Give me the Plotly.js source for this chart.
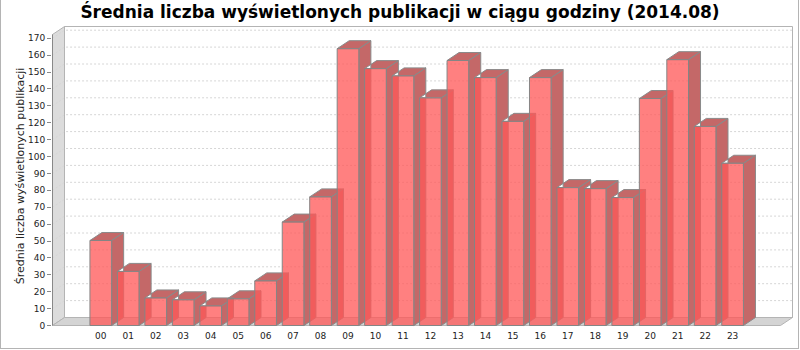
<!DOCTYPE html>
<html>
<head>
<meta charset="utf-8">
<script src="https://cdn.plot.ly/plotly-3.0.1.min.js"></script>
<style>
  html, body { margin: 0; padding: 0; background: #fff; }
  #wrap { position: relative; width: 800px; height: 350px; }
  #chart { width: 800px; height: 350px; }
  #frame { position: absolute; left: 0; top: 0; width: 799px; height: 349px; box-sizing: border-box;
           border-left: 1px solid #b4b4b4; border-right: 1px solid #b4b4b4; border-bottom: 1px solid #b4b4b4;
           pointer-events: none; }
</style>
</head>
<body>
<div id="wrap"><div id="chart"></div><div id="frame"></div></div>
<script>
// ---- data ----
const hours = ['00','01','02','03','04','05','06','07','08','09','10','11',
               '12','13','14','15','16','17','18','19','20','21','22','23'];
const views = [50.3, 32.0, 16.3, 15.2, 11.6, 15.8, 26.4, 61.2, 76.1, 163.8, 152.0, 147.7,
               134.7, 156.8, 146.7, 120.8, 146.7, 81.6, 81.0, 75.7, 134.3, 157.3, 117.8, 96.0];
const yTickVals = [0,10,20,30,40,50,60,70,80,90,100,110,120,130,140,150,160,170];
const chartTitle = 'Średnia liczba wyświetlonych publikacji w ciągu godziny (2014.08)';
const yTitle = 'Średnia liczba wyświetlonych publikacji';

// ---- geometry (pixels) ----
const PLOT_L = 52, PLOT_R = 793, PLOT_T = 25, PLOT_B = 327;
const CAT0_PX = 100.8, CAT_STEP_PX = 27.47;   // category spacing
const ZERO_PX = 325.5, UNIT_PX = 1.69;        // value scale
const DEPTH_X = 12, DEPTH_Y = 8;              // 3D offset
const AXIS_PX = 52.5, FRONT_TOP_PX = 34.5, FRONT_RIGHT_PX = 780.5;
const BAR_W = 0.79;

const X = px => (px - CAT0_PX) / CAT_STEP_PX;
const Y = py => (ZERO_PX - py) / UNIT_PX;
const dxD = DEPTH_X / CAT_STEP_PX;
const dyD = DEPTH_Y / UNIT_PX;
const xRange = [X(PLOT_L), X(PLOT_R)];
const yRange = [Y(PLOT_B), Y(PLOT_T)];

const xFL = X(AXIS_PX), xBL = X(AXIS_PX + DEPTH_X);
const xFR = X(FRONT_RIGHT_PX), xBR = X(FRONT_RIGHT_PX + DEPTH_X);
const yFT = Y(FRONT_TOP_PX), yBT = Y(FRONT_TOP_PX - DEPTH_Y);

// gridlines on back wall + diagonals on side wall
const gx = [], gy = [];
yTickVals.forEach(v => {
  if (v === 0) return;
  gx.push(xFL, xBL, xBR, null);
  gy.push(v, v + dyD, v + dyD, null);
});

// side & top faces
const fx = [], fy = [];
hours.forEach((h, i) => {
  const v = views[i], L = i - BAR_W / 2, R = i + BAR_W / 2;
  fx.push(R, R + dxD, R + dxD, R, R, null);
  fy.push(0, dyD, v + dyD, v, 0, null);
  fx.push(L, L + dxD, R + dxD, R, L, null);
  fy.push(v, v + dyD, v + dyD, v, v, null);
});

const idx = hours.map((h, i) => i);

const traces = [
  { type: 'scatter', mode: 'lines', x: gx, y: gy, hoverinfo: 'skip',
    line: { color: '#d6d6d6', width: 1, dash: '2px,2px' }, showlegend: false },
  { type: 'scatter', mode: 'lines', x: fx, y: fy, fill: 'toself', fillcolor: '#c46868',
    line: { color: '#8a8a8a', width: 1 }, hoverinfo: 'skip', showlegend: false },
  { type: 'bar', x: idx, y: views, width: BAR_W, xaxis: 'x2', yaxis: 'y2',
    marker: { color: 'rgba(255,88,88,0.76)', line: { color: '#858585', width: 1 } },
    showlegend: false }
];

const path = pts => 'M' + pts.map(p => p[0] + ',' + p[1]).join('L') + 'Z';

const layout = {
  width: 800, height: 350,
  margin: { l: PLOT_L, r: 800 - PLOT_R, t: PLOT_T, b: 350 - PLOT_B, pad: 0 },
  paper_bgcolor: '#fff', plot_bgcolor: '#fff',
  showlegend: false,
  title: { text: chartTitle, x: 0.5, xref: 'container', xanchor: 'center',
           y: 1 - 12.5 / 350, yref: 'container', yanchor: 'middle',
           font: { family: 'DejaVu Sans', size: 17, weight: 'bold', color: '#000' } },
  xaxis: { range: xRange, tickmode: 'array', tickvals: idx, ticktext: hours,
           ticks: '', showgrid: false, zeroline: false, showline: false, ticklabelstandoff: 2,
           tickfont: { family: 'DejaVu Sans', size: 9, color: '#222' }, fixedrange: true },
  yaxis: { range: yRange, tickmode: 'array', tickvals: yTickVals,
           ticks: 'outside', ticklen: 4, tickcolor: '#888', tickwidth: 1,
           showgrid: false, zeroline: false, showline: false,
           tickfont: { family: 'DejaVu Sans', size: 9, color: '#222' },
           title: { text: yTitle, standoff: 1, font: { family: 'DejaVu Sans', size: 11, color: '#222' } },
           fixedrange: true },
  xaxis2: { range: xRange, overlaying: 'x', anchor: 'y2', visible: false, fixedrange: true },
  yaxis2: { range: yRange, overlaying: 'y', anchor: 'x2', visible: false, fixedrange: true },
  shapes: [
    { type: 'rect', xref: 'x', yref: 'y', x0: xBL, x1: xBR, y0: dyD, y1: yBT,
      fillcolor: '#fff', line: { color: '#b4b4b4', width: 1 }, layer: 'below' },
    { type: 'path', xref: 'x', yref: 'y', layer: 'below',
      path: path([[xFL, 0], [xBL, dyD], [xBL, yBT], [xFL, yFT]]),
      fillcolor: '#dcdcdc', line: { color: '#b4b4b4', width: 1 } },
    { type: 'path', xref: 'x', yref: 'y', layer: 'below',
      path: path([[xFL, 0], [xBL, dyD], [xBR, dyD], [xFR, 0]]),
      fillcolor: '#d4d4d4', line: { color: '#b4b4b4', width: 1 } },
    { type: 'line', xref: 'x', yref: 'y', layer: 'above',
      x0: xFL, x1: xFL, y0: 0, y1: yFT, line: { color: '#888', width: 1 } }
  ]
};

Plotly.newPlot('chart', traces, layout, { displayModeBar: false, staticPlot: true });
</script>
</body>
</html>
